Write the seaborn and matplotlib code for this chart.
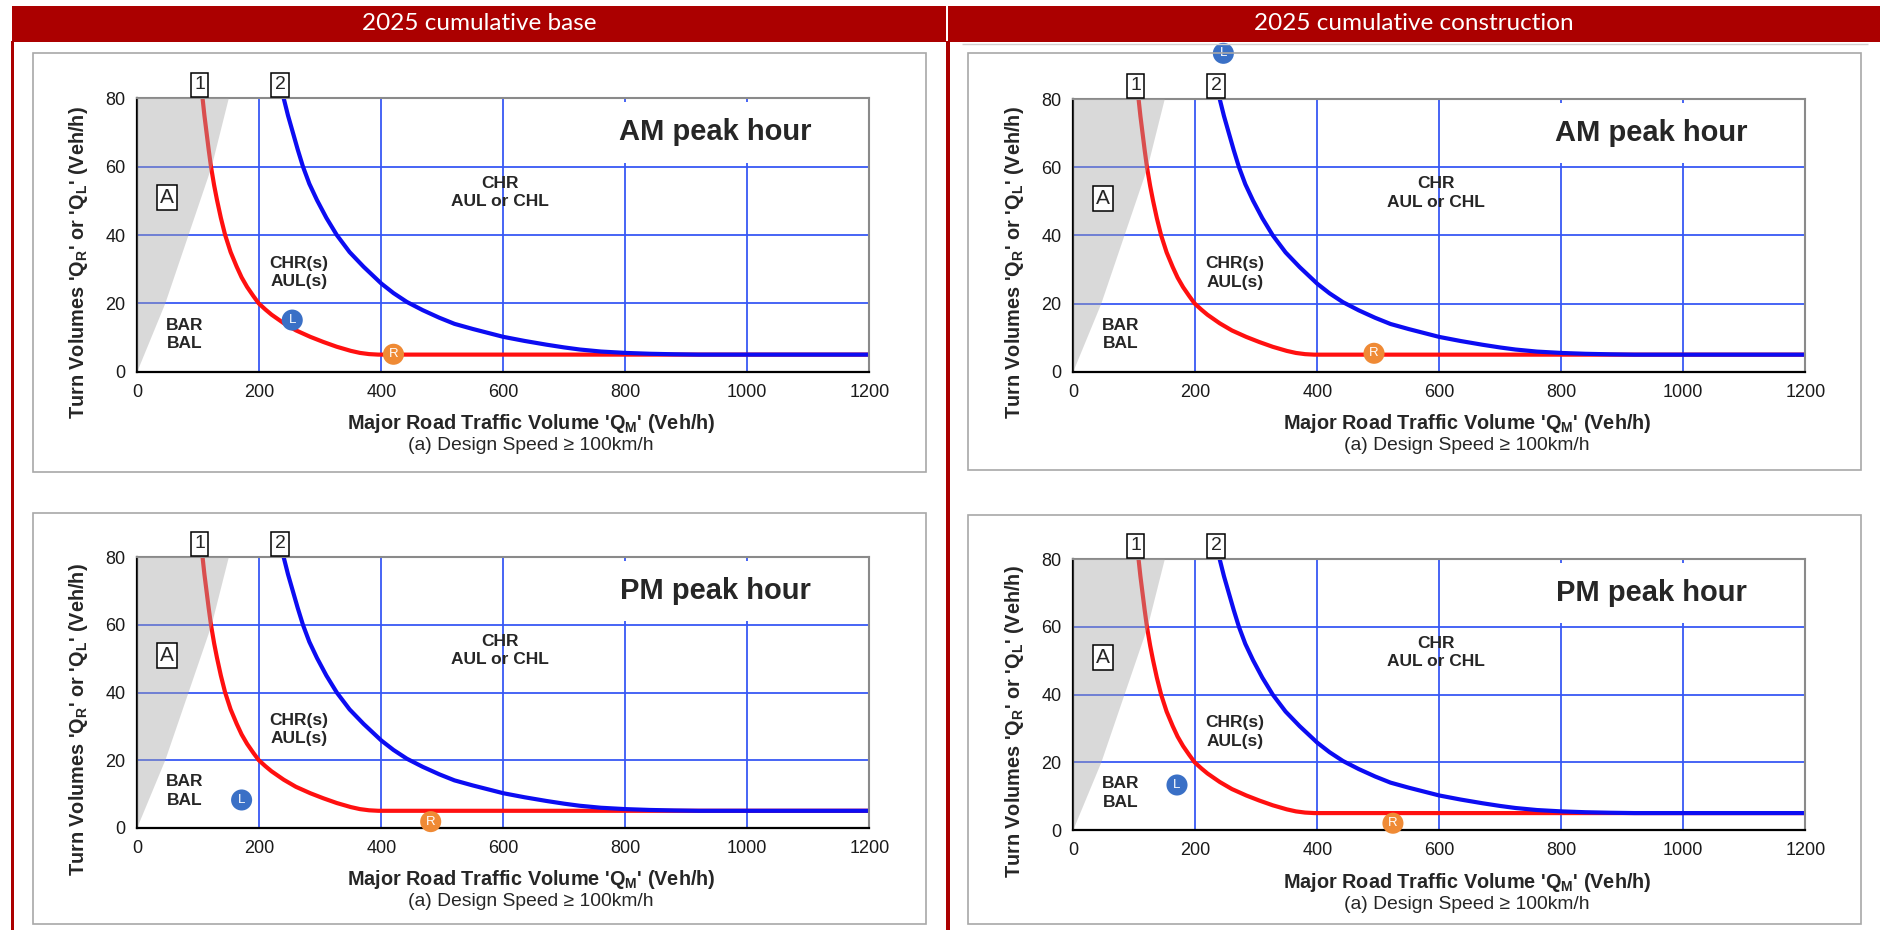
import matplotlib
matplotlib.use('Agg')
import matplotlib.pyplot as plt
from matplotlib.patches import Rectangle
import seaborn as sns

# warrant curves: Q_M (x) against Q_R / Q_L (y)
curve1_x = [107, 110, 113.5, 117, 120.8, 126, 130.7, 137, 144, 153, 163, 171, 180, 190, 199,
            210, 220, 240, 260, 283.6, 305, 327, 350, 365, 380, 395, 1200]
curve1_y = [80, 75, 70, 65, 60, 54.5, 50.2, 45, 40, 35, 30.7, 27.6, 24.8, 22.2, 20,
            18.2, 16.7, 14.2, 12.1, 10.2, 8.7, 7.3, 6.1, 5.5, 5.15, 5.0, 5.0]
curve2_x = [240, 247, 255, 263, 271.6, 282, 294.6, 310, 327, 348, 371, 400, 420, 442, 468,
            495, 520, 550, 600, 635, 671, 700, 725, 760, 800, 840, 880, 920, 1200]
curve2_y = [80, 75, 70, 65, 60, 55, 50.2, 45, 40, 35, 30.7, 25.8, 23, 20.4, 18,
            15.8, 14, 12.5, 10.2, 9, 7.9, 7.1, 6.5, 5.9, 5.5, 5.25, 5.1, 5.0, 5.0]
# grey "A" wedge
shade_x = [0, 46, 84, 122, 150, 0]
shade_y = [0, 20, 40, 60, 80, 80]

panel_titles = ['2025 cumulative base', '2025 cumulative construction']
peak_labels = ['AM peak hour', 'AM peak hour', 'PM peak hour', 'PM peak hour']
left_x = [254, 246, 171, 170]
left_y = [15.1, 93.4, 8.2, 13.3]
right_x = [420, 493, 481, 524]
right_y = [5.1, 5.4, 1.8, 2.0]

x_ticks = [0, 200, 400, 600, 800, 1000, 1200]
y_ticks = [0, 20, 40, 60, 80]

sns.set_style('white')
plt.rcParams['font.family'] = ['Liberation Sans', 'DejaVu Sans']
plt.rcParams['mathtext.fontset'] = 'custom'
plt.rcParams['mathtext.rm'] = 'Liberation Sans'
plt.rcParams['mathtext.bf'] = 'Liberation Sans:bold'
plt.rcParams['mathtext.it'] = 'Liberation Sans:italic'

W, H = 1881, 930
DARKRED = '#ab0000'
GRID = '#3858f4'

fig = plt.figure(figsize=(W / 100, H / 100), dpi=100)


def px_rect(x0, y0, x1, y1, **kw):
    r = Rectangle((x0 / W, 1 - y1 / H), (x1 - x0) / W, (y1 - y0) / H,
                  transform=fig.transFigure, **kw)
    fig.add_artist(r)


# title bars and red frame lines
px_rect(12, 6, 946.5, 41.7, facecolor=DARKRED, edgecolor='none')
px_rect(948.3, 6, 1881, 41.7, facecolor=DARKRED, edgecolor='none')
px_rect(11, 41, 14.5, 930, facecolor=DARKRED, edgecolor='none')
px_rect(946, 41, 950, 930, facecolor=DARKRED, edgecolor='none')
fig.text(479 / W, 1 - 24 / H, panel_titles[0], color='white', fontsize=17.5,
         family=['Lato', 'DejaVu Sans'], ha='center', va='center')
fig.text(1414 / W, 1 - 24 / H, panel_titles[1], color='white', fontsize=17.5,
         family=['Lato', 'DejaVu Sans'], ha='center', va='center')

# chart frames
for x0, y0, x1, y1 in [(33, 53, 926, 472), (968, 53, 1861, 470),
                       (33, 513, 926, 924), (968, 515, 1861, 924)]:
    px_rect(x0, y0, x1, y1, facecolor='none', edgecolor='#a8a8a8', lw=1.2)
px_rect(962, 44, 1868, 44.5, facecolor='none', edgecolor='#d0d0d0', lw=1)

axes_px = [(137.3, 98.3, 869.3, 371.7), (1073.3, 99, 1805.3, 371.7),
           (137.3, 557.3, 869.3, 827.7), (1073.3, 559.3, 1805.3, 830)]

for i, (x0, y0, x1, y1) in enumerate(axes_px):
    ax = fig.add_axes([x0 / W, 1 - y1 / H, (x1 - x0) / W, (y1 - y0) / H])
    ax.set_xlim(0, 1200)
    ax.set_ylim(0, 80)
    ax.set_xticks(x_ticks)
    ax.set_yticks(y_ticks)
    ax.grid(True, color=GRID, lw=1.3)
    ax.set_axisbelow(True)

    sns.lineplot(x=curve1_x, y=curve1_y, color='#ff1010', lw=3, ax=ax,
                 sort=False, estimator=None, zorder=2)
    sns.lineplot(x=curve2_x, y=curve2_y, color='#0c0cf2', lw=3, ax=ax,
                 sort=False, estimator=None, zorder=2.2)
    ax.fill(shade_x, shade_y, color='#a6a6a6', alpha=0.42, lw=0, zorder=3)

    for sp in ['left', 'bottom']:
        ax.spines[sp].set_color('black')
        ax.spines[sp].set_linewidth(1.6)
    for sp in ['top', 'right']:
        ax.spines[sp].set_color('#8a8a8a')
        ax.spines[sp].set_linewidth(1.5)
    ax.tick_params(direction='inout', length=7, width=1.3, colors='black',
                   labelsize=13, labelcolor='#1a1a1a', pad=5)

    ax.set_ylabel(r"Turn Volumes 'Q$_\mathbf{R}$' or 'Q$_\mathbf{L}$' (Veh/h)",
                  fontsize=14.3, fontweight='bold')
    ax.yaxis.set_label_coords(-0.0646, 0.40)
    ax.annotate(r"Major Road Traffic Volume 'Q$_\mathbf{M}$' (Veh/h)", xy=(0.538, 0),
                xycoords='axes fraction', xytext=(0, -52 * 0.72), textcoords='offset points',
                ha='center', va='center', fontsize=14.3, fontweight='bold')
    ax.annotate('(a) Design Speed \u2265 100km/h', xy=(0.538, 0),
                xycoords='axes fraction', xytext=(0, -74 * 0.72), textcoords='offset points',
                ha='center', va='center', fontsize=13.9)

    # region labels
    ax.text(78, 10.9, 'BAR\nBAL', fontsize=12.5, fontweight='bold', ha='center',
            va='center', linespacing=1.3, zorder=4)
    ax.text(265, 29, 'CHR(s)\nAUL(s)', fontsize=12.5, fontweight='bold', ha='center',
            va='center', linespacing=1.3, zorder=4)
    ax.text(595, 52.4, 'CHR\nAUL or CHL', fontsize=12.5, fontweight='bold', ha='center',
            va='center', linespacing=1.3, zorder=4)
    ax.text(49, 50.9, 'A', fontsize=15, ha='center', va='center', zorder=4,
            bbox=dict(boxstyle='square,pad=0.15', facecolor='white', edgecolor='black', lw=1.1))
    ax.text(947, 70, peak_labels[i], fontsize=21, fontweight='bold', ha='center',
            va='center', zorder=4,
            bbox=dict(boxstyle='square,pad=0.55', facecolor='white', edgecolor='none'))
    for lab, xv in [('1', 102), ('2', 234)]:
        ax.annotate(lab, xy=(xv, 80), xycoords='data', xytext=(0, 3.5),
                    textcoords='offset points', ha='center', va='bottom', fontsize=14,
                    annotation_clip=False,
                    bbox=dict(boxstyle='square,pad=0.18', facecolor='white',
                              edgecolor='black', lw=1.1))

    # turn markers
    sns.scatterplot(x=[left_x[i]], y=[left_y[i]], s=230, color='#3a70c6',
                    edgecolor='none', ax=ax, zorder=6)
    sns.scatterplot(x=[right_x[i]], y=[right_y[i]], s=230, color='#ef8a35',
                    edgecolor='none', ax=ax, zorder=6)
    for c in ax.collections[-2:]:
        c.set_clip_on(False)
    ax.text(left_x[i], left_y[i], 'L', color='white', fontsize=9.5, ha='center',
            va='center', zorder=7, clip_on=False)
    ax.text(right_x[i], right_y[i], 'R', color='white', fontsize=9.5, ha='center',
            va='center', zorder=7, clip_on=False)

fig.savefig('out.png', dpi=100)
